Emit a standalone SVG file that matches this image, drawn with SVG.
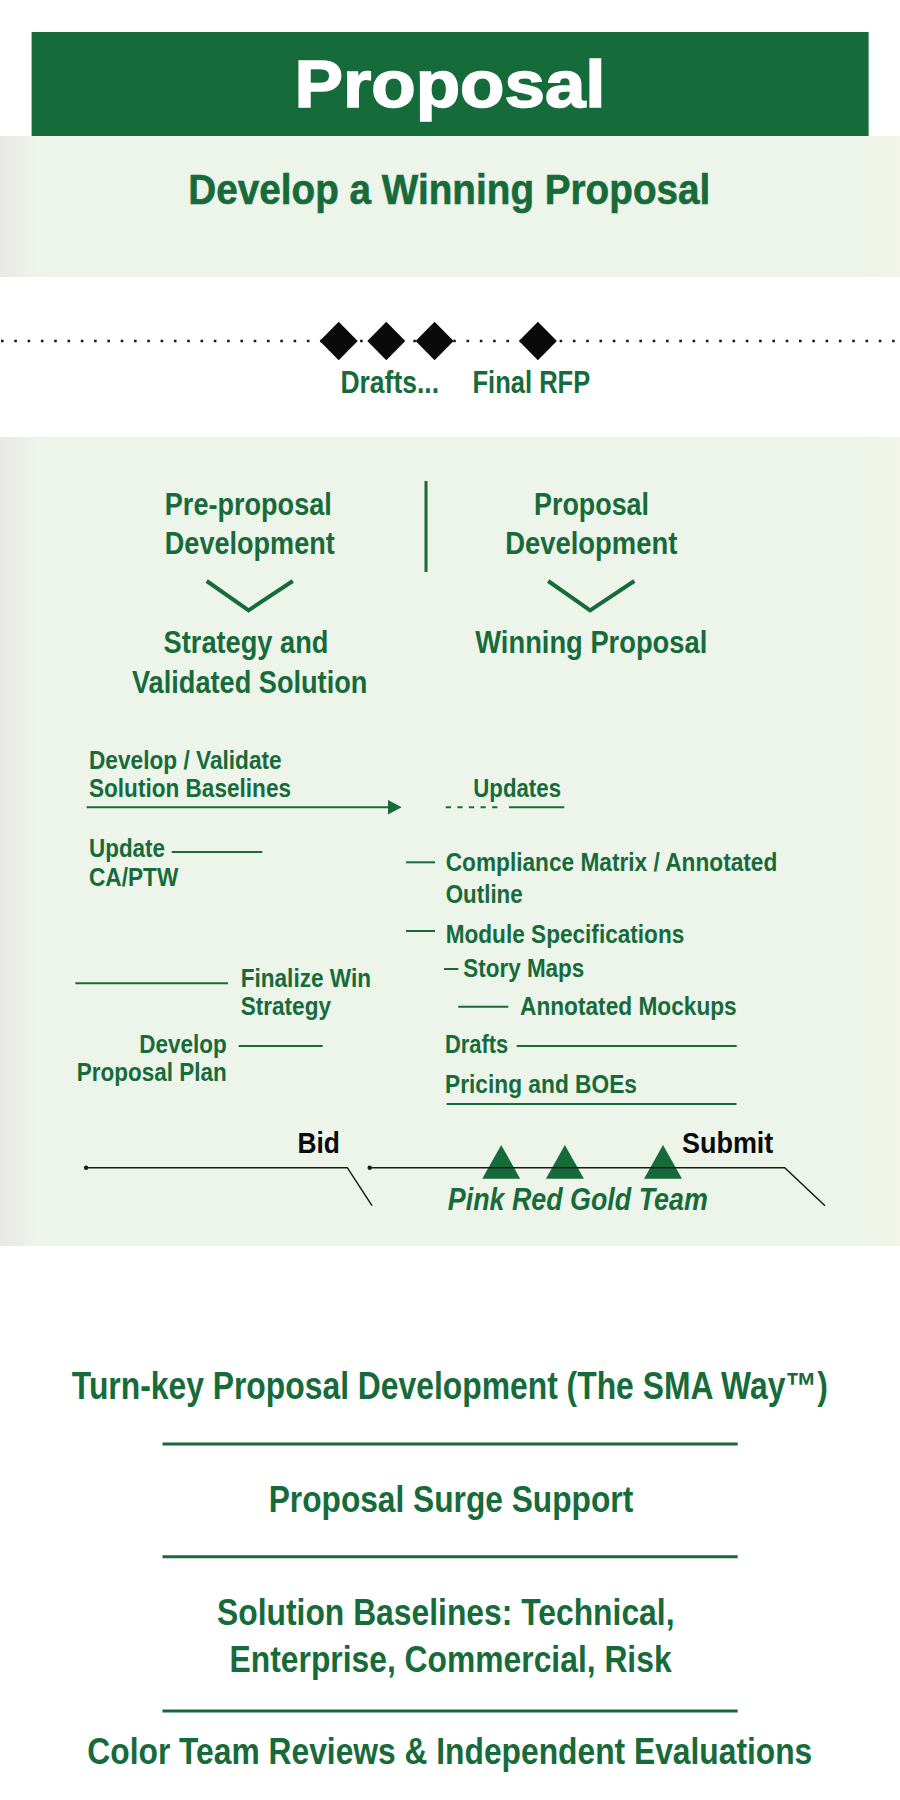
<svg xmlns="http://www.w3.org/2000/svg" width="900" height="1800" viewBox="0 0 900 1800">
<defs>
<linearGradient id="band" x1="0" y1="0" x2="1" y2="0">
<stop offset="0" stop-color="#e8e8e6"/>
<stop offset="0.04" stop-color="#edf4ea"/>
<stop offset="0.95" stop-color="#edf4ea"/>
<stop offset="1" stop-color="#f2f5e7"/>
</linearGradient>
<style>
.t{font-family:"Liberation Sans Narrow","Liberation Sans",Arial,sans-serif;font-weight:bold;fill:#176b3a}
.k{font-family:"Liberation Sans Narrow","Liberation Sans",Arial,sans-serif;font-weight:bold;fill:#0a0a0a}
.g{stroke:#176b3a;stroke-width:2;fill:none}
.b{stroke:#1a1a1a;stroke-width:1.5;fill:none}
.d{fill:#0a0a0a}
.tri{fill:#176b3a}
.rule{stroke:#176b3a;stroke-width:3}
</style>
</defs>
<rect x="0" y="0" width="900" height="1800" fill="#ffffff"/>
<rect x="0" y="136" width="900" height="141" fill="url(#band)"/>
<rect x="0" y="437" width="900" height="809" fill="url(#band)"/>

<g id="title">
<rect x="31.6" y="32" width="837" height="104" fill="#156b3a"/>
<text x="294.5" y="107" font-family="Liberation Sans,Arial,sans-serif" font-weight="bold" font-size="66" fill="#ffffff" stroke="#ffffff" stroke-width="1.6" textLength="311" lengthAdjust="spacingAndGlyphs">Proposal</text>
</g>
<g id="subtitle">
<text class="t" x="188.3" y="204" font-size="43" stroke="#176b3a" stroke-width="0.6" textLength="522" lengthAdjust="spacingAndGlyphs">Develop a Winning Proposal</text>
</g>

<g id="timeline">
<line x1="1" y1="341" x2="900" y2="341" stroke="#1a1a1a" stroke-width="2.6" stroke-dasharray="2.6 10.7"/>
<path class="d" d="M338.7,321.7 L357.7,341 L338.7,360.3 L319.7,341 z"/>
<path class="d" d="M386.3,321.7 L405.3,341 L386.3,360.3 L367.3,341 z"/>
<path class="d" d="M434.6,321.7 L453.6,341 L434.6,360.3 L415.6,341 z"/>
<path class="d" d="M537.9,321.7 L556.9,341 L537.9,360.3 L518.9,341 z"/>
</g>
<g id="drafts"><text class="t" x="340.4" y="393.3" font-size="32" textLength="98.7" lengthAdjust="spacingAndGlyphs">Drafts...</text></g>
<g id="final-rfp"><text class="t" x="472.5" y="393.3" font-size="32" textLength="117.7" lengthAdjust="spacingAndGlyphs">Final RFP</text></g>

<g id="pre-proposal">
<text class="t" x="164.8" y="515" font-size="32" textLength="167" lengthAdjust="spacingAndGlyphs">Pre-proposal</text>
<text class="t" x="164.8" y="554.3" font-size="32" textLength="170" lengthAdjust="spacingAndGlyphs">Development</text>
</g>
<g id="proposal-dev">
<text class="t" x="534" y="515" font-size="32" textLength="115" lengthAdjust="spacingAndGlyphs">Proposal</text>
<text class="t" x="505.2" y="554.3" font-size="32" textLength="172.2" lengthAdjust="spacingAndGlyphs">Development</text>
</g>
<g id="strategy">
<text class="t" x="163.6" y="653.3" font-size="31" textLength="164.8" lengthAdjust="spacingAndGlyphs">Strategy and</text>
<text class="t" x="132" y="693.3" font-size="31" textLength="235.4" lengthAdjust="spacingAndGlyphs">Validated Solution</text>
</g>
<g id="winning">
<text class="t" x="475.3" y="653.3" font-size="31" textLength="232" lengthAdjust="spacingAndGlyphs">Winning Proposal</text>
</g>

<g id="left-tasks">
<text class="t" x="89" y="769.3" font-size="26" textLength="192.7" lengthAdjust="spacingAndGlyphs">Develop / Validate</text>
<text class="t" x="89" y="797.3" font-size="26" textLength="202" lengthAdjust="spacingAndGlyphs">Solution Baselines</text>
<text class="t" x="89" y="857.3" font-size="26" textLength="76" lengthAdjust="spacingAndGlyphs">Update</text>
<text class="t" x="89" y="885.7" font-size="26" textLength="89.3" lengthAdjust="spacingAndGlyphs">CA/PTW</text>
<text class="t" x="240.7" y="987.3" font-size="26" textLength="130.3" lengthAdjust="spacingAndGlyphs">Finalize Win</text>
<text class="t" x="240.7" y="1015" font-size="26" textLength="90.3" lengthAdjust="spacingAndGlyphs">Strategy</text>
<text class="t" x="139.3" y="1052.7" font-size="26" textLength="87.4" lengthAdjust="spacingAndGlyphs">Develop</text>
<text class="t" x="76.7" y="1081" font-size="26" textLength="150" lengthAdjust="spacingAndGlyphs">Proposal Plan</text>
</g>
<g id="right-tasks">
<text class="t" x="473.3" y="797.3" font-size="26" textLength="87.7" lengthAdjust="spacingAndGlyphs">Updates</text>
<text class="t" x="445.7" y="870.7" font-size="26" textLength="331.6" lengthAdjust="spacingAndGlyphs">Compliance Matrix / Annotated</text>
<text class="t" x="445.7" y="903.3" font-size="26" textLength="77" lengthAdjust="spacingAndGlyphs">Outline</text>
<text class="t" x="445.7" y="942.7" font-size="26" textLength="238.6" lengthAdjust="spacingAndGlyphs">Module Specifications</text>
<text class="t" x="463.3" y="976.7" font-size="26" textLength="121" lengthAdjust="spacingAndGlyphs">Story Maps</text>
<text class="t" x="520" y="1015" font-size="26" textLength="216.7" lengthAdjust="spacingAndGlyphs">Annotated Mockups</text>
<text class="t" x="445" y="1053.3" font-size="26" textLength="63.3" lengthAdjust="spacingAndGlyphs">Drafts</text>
<text class="t" x="445" y="1093" font-size="26" textLength="192" lengthAdjust="spacingAndGlyphs">Pricing and BOEs</text>
</g>

<g id="milestones">
<text class="k" x="297.4" y="1152.7" font-size="30" textLength="42.4" lengthAdjust="spacingAndGlyphs">Bid</text>
<text class="k" x="682" y="1152.7" font-size="30" textLength="91.3" lengthAdjust="spacingAndGlyphs">Submit</text>
<path class="tri" d="M501.2,1145 L520.2,1178.7 L482.2,1178.7 z"/>
<path class="tri" d="M564.9,1145 L583.9,1178.7 L545.9,1178.7 z"/>
<path class="tri" d="M663,1145 L682,1178.7 L644,1178.7 z"/>
<text class="t" x="447.8" y="1210" font-size="31" font-style="italic" textLength="260" lengthAdjust="spacingAndGlyphs">Pink Red Gold Team</text>
</g>

<g id="connectors">
<line x1="426" y1="481" x2="426" y2="572" stroke="#176b3a" stroke-width="3"/>
<polyline points="206.7,581 248.6,610.3 292.8,581" stroke="#176b3a" stroke-width="4" fill="none"/>
<polyline points="548.2,581 590.1,610.3 634.3,581" stroke="#176b3a" stroke-width="4" fill="none"/>
<line class="g" x1="86.7" y1="807.3" x2="389" y2="807.3"/>
<path d="M388,800 L401.7,807.3 L388,814.6 z" fill="#176b3a"/>
<line class="g" x1="445.7" y1="807.3" x2="503" y2="807.3" stroke-dasharray="5.3 6.3"/>
<line class="g" x1="509" y1="807.3" x2="564.3" y2="807.3"/>
<line class="g" x1="171.7" y1="852" x2="262.3" y2="852"/>
<line class="g" x1="406" y1="862.3" x2="435" y2="862.3"/>
<line class="g" x1="406" y1="931" x2="435" y2="931"/>
<line class="g" x1="444" y1="969" x2="458.3" y2="969"/>
<line class="g" x1="458.3" y1="1006.7" x2="508.3" y2="1006.7"/>
<line class="g" x1="75.3" y1="983.3" x2="228" y2="983.3"/>
<line class="g" x1="238.7" y1="1046" x2="322.7" y2="1046"/>
<line class="g" x1="516.7" y1="1046" x2="736.7" y2="1046"/>
<line class="g" x1="446.6" y1="1104" x2="736.5" y2="1104"/>
<polyline class="b" points="86.1,1167.7 347.3,1167.7 372,1205.7"/>
<circle cx="86.1" cy="1167.7" r="2.2" fill="#1a1a1a"/>
<polyline class="b" points="369.7,1167.7 784.7,1167.7 825,1205.7"/>
<circle cx="369.7" cy="1167.7" r="2.2" fill="#1a1a1a"/>
</g>

<g id="services">
<text class="t" x="71.8" y="1399" font-size="38" textLength="756" lengthAdjust="spacingAndGlyphs">Turn-key Proposal Development (The SMA Way™)</text>
<line class="rule" x1="162.5" y1="1444" x2="737.7" y2="1444"/>
<text class="t" x="268.7" y="1512.3" font-size="37" textLength="364.5" lengthAdjust="spacingAndGlyphs">Proposal Surge Support</text>
<line class="rule" x1="162.5" y1="1556.7" x2="737.7" y2="1556.7"/>
<text class="t" x="217" y="1625" font-size="37" textLength="457.5" lengthAdjust="spacingAndGlyphs">Solution Baselines: Technical,</text>
<text class="t" x="229.6" y="1671.7" font-size="37" textLength="442" lengthAdjust="spacingAndGlyphs">Enterprise, Commercial, Risk</text>
<line class="rule" x1="162.5" y1="1711" x2="737.7" y2="1711"/>
<text class="t" x="87.3" y="1764.3" font-size="37" textLength="725" lengthAdjust="spacingAndGlyphs">Color Team Reviews &amp; Independent Evaluations</text>
</g>
</svg>
